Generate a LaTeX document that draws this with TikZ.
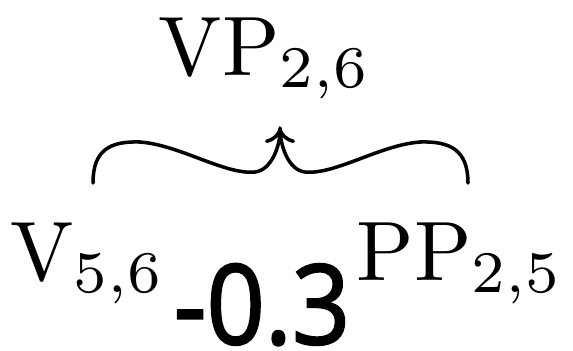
\documentclass[tikz,border=0pt]{standalone}
\usepackage{fontspec}
\newfontfamily\scorefont[FakeBold=2]{Open Sans}
\usetikzlibrary{arrows.meta}
\begin{document}
\begin{tikzpicture}[
                    every node/.style={inner sep=0pt, anchor=base},
                    score/.style={font=\scorefont\fontsize{63}{65}\selectfont},
                    bracepart/.style={line width=2pt, line cap=round}
                    ]
                    \useasboundingbox (0,0) rectangle (11.46,7);
                    \node (vp) at (5.3,5.5) {\scalebox{4.8}{$\mathrm{VP}_{2,6}$}};
                    \node (v) at (1.75,1.4) {\scalebox{4.8}{$\mathrm{V}_{5,6}$}};
                    \node (pp) at (9.2,1.4) {\scalebox{4.8}{$\mathrm{PP}_{2,5}$}};
                    \node[score] (s) at (5.24,0.12) {\scalebox{0.92}[1]{-0.3}};

                    \coordinate (l) at (1.86,3.34);
                    \coordinate (r) at (9.36,3.34);
                    \coordinate (c) at (5.6,4.44);

                    \draw[bracepart, -{To[length=0.3cm, width=0.6cm]}] (l) .. controls (1.86,4.0) and (2.2,4.18) .. (2.8,4.16)
                        .. controls (3.6,4.1) and (4.5,3.5) .. (5.1,3.56)
                        .. controls (5.44,3.6) and (5.6,4.1) .. (c);
                    \draw[bracepart] (r) .. controls (9.36,4.0) and (9.0,4.18) .. (8.4,4.16)
                        .. controls (7.6,4.1) and (6.7,3.5) .. (6.1,3.56)
                        .. controls (5.76,3.6) and (5.6,4.1) .. (c);
                \end{tikzpicture}
\end{document}
